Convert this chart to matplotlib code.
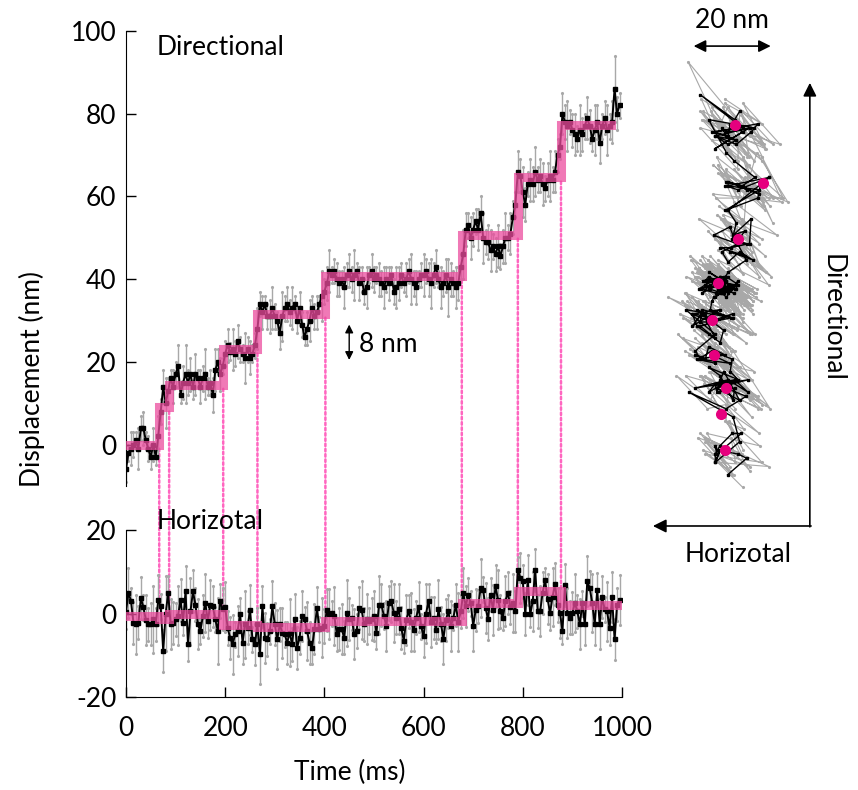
import numpy as np
import matplotlib
matplotlib.use('Agg')
import matplotlib.pyplot as plt
from matplotlib.patches import ConnectionPatch

plt.rcParams['font.family'] = ['Lato', 'DejaVu Sans']
plt.rcParams['axes.unicode_minus'] = False

# sampling times (ms), one point every 5 ms
time_ms = np.arange(0, 1000, 5)

# directional displacement (nm), black trace
dir_nm = np.array([
    -6, -2, -1, 0, 1, -1, 4, 4, 1, -1, -3, 0, -3, 2,
    8, 14, 10, 13,
    16, 14, 17, 19, 12, 15, 17, 15, 17, 14, 17, 16, 14, 16, 17, 14, 15, 12, 18, 20, 17, 19,
    22, 24, 22.5, 23, 22, 25, 23, 22, 21, 23, 21, 22, 24,
    28, 34, 32, 34, 31, 31, 33, 31, 30, 27, 31, 33, 34, 32, 33, 34, 30, 33, 29, 26, 28, 30, 33, 31, 32, 34, 36, 37,
    39, 42, 41, 42, 40, 39, 40, 38, 41, 42, 40, 41, 42, 39, 40, 37, 38, 41, 42, 40,
    41, 40, 39, 38, 40, 39, 41, 37, 38, 39, 41, 39, 40, 42, 40, 39, 38, 40, 41, 41,
    42, 40, 39, 41, 43, 40, 38, 39, 41, 38, 40, 39, 38, 39, 43,
    46, 52, 53, 50, 52, 54, 52, 56, 50, 49, 49, 47, 48, 46, 48, 45.5, 48, 50, 50, 51, 55, 58,
    66, 65, 61, 58, 63, 64, 63, 66, 64, 65, 63, 62, 64, 65, 64, 66, 70, 72,
    80, 78, 77, 78, 76, 75, 74, 76, 75, 77, 79, 77, 74, 76, 78, 73, 77, 79, 76, 77, 78, 86, 80, 82])

# horizontal displacement (nm), black trace
hor_nm = np.array([
    0.4, 5.0, 3.0, -2.2, -2.6, -2.2, 3.7, 1.5, -1.5, -2.6, -2.6, -1.4, -2.6, 3.3,
    1.7, -9.0, 0.0, 4.9,
    -2.6, -2.2, -1.4, -0.5, 3.3, -2.2, 5.3, -7.4, 0.5, 5.3, 2.1, -2.6, -4.2, -0.6, 2.5, -1.8, 2.1, 1.7, -1.4, -4.2, 3.0, 1.0,
    1.5, -3.5, -5.8, -7.4, -5.0, -4.2, -0.2, -7.0, -2.6, -3.4, 0.9, -6.2, -7.4,
    -2.6, -9.8, 1.7, -5.8, -6.2, -4.2, 1.7, -2.6, -6.2, -2.6, -4.6, -5.0, -7.0, -4.6, -7.4, -1.4, -8.2, -5.8, -0.6, -1.4,
    -4.2, -7.0, -8.2, -3.8, 1.3, -3.8, -3.4, -3.0,
    0.9, -0.2, 0.1, -0.6, -5.0, -3.8, -3.8, -5.8, 0.1, -1.4, -1.0, -5.0, -4.2, 1.3, 0.9, -2.6, -1.4, -1.8, -1.4, -0.6,
    -4.6, 2.1, 2.1, -0.6, -3.0, 2.5, 2.9, 0.1, -1.0, 1.0, -3.5, -6.5, -1.5, 0.5, -2.0, -4.0, -1.0, 1.5, -3.0, -5.5,
    0.0, 3.0, -2.0, -1.0, -4.0, 1.0, -2.5, -6.0, -1.5, 0.5, -3.0, -1.0, 2.0, -2.0, 0.5,
    4.9, 1.7, 4.5, 2.5, -3.0, 0.9, 1.7, 6.1, 5.7, 1.3, -1.4, 4.5, 0.9, 6.5, 3.3, 0.5, -1.0, 3.0, 5.0, 1.5, 2.5, 0.5,
    10.5, 8.5, 7.7, -0.2, 8.1, -0.2, 2.9, 10.5, 0.5, 0.5, 5.0, 8.0, 3.5, 0.1, 4.0, 7.0, 2.0, 0.1,
    -4.2, 6.9, 0.1, -1.0, 0.1, 2.5, 0.5, -2.6, 2.5, -2.6, 7.7, 6.1, 2.5, -2.6, 5.7, -2.6, 4.0, 1.0, 0.5, -3.5,
    4.0, -6.2, 2.1, 3.3])

# error bars (nm), grey
err_dir = np.array([
    3, 2, 4, 3, 2, 5, 3, 4, 2, 3, 3, 4, 2, 5, 3, 4, 6, 3, 2, 4,
    3, 5, 2, 4, 7, 3, 4, 3, 5, 2, 4, 3, 6, 2, 3, 4, 5, 3, 4, 2,
    3, 4, 2, 5, 3, 4, 3, 2, 6, 3, 4, 2, 3, 5, 3, 4, 2, 3, 4, 5,
    3, 2, 4, 6, 3, 4, 3, 5, 2, 3, 4, 3, 2, 4, 5, 3, 3, 4, 2, 6,
    3, 4, 5, 2, 3, 4, 3, 2, 5, 3, 4, 3, 6, 2, 4, 3, 3, 5, 2, 4,
    3, 2, 4, 3, 5, 3, 4, 2, 3, 5, 4, 3, 2, 4, 3, 6, 3, 4, 2, 3,
    5, 3, 4, 6, 3, 4, 2, 5, 3, 4, 7, 4, 3, 5, 4, 3, 6, 4, 3, 5,
    4, 3, 5, 4, 6, 3, 4, 5, 3, 4, 5, 3, 4, 6, 3, 5, 4, 3, 5, 4,
    6, 4, 3, 5, 4, 6, 3, 4, 5, 3, 4, 6, 3, 5, 4, 3, 5, 4, 6, 3,
    4, 5, 3, 6, 4, 3, 5, 4, 3, 6, 4, 5, 3, 4, 6, 3, 5, 8, 4, 3])
err_hor = np.array([
    4, 6, 3, 5, 7, 4, 5, 3, 6, 4, 5, 8, 4, 6, 3, 5, 9, 4, 6, 5,
    4, 7, 5, 3, 6, 4, 8, 5, 4, 6, 3, 5, 7, 4, 6, 5, 3, 8, 4, 5,
    6, 4, 5, 7, 3, 6, 4, 5, 8, 4, 6, 3, 5, 4, 7, 5, 6, 4, 3, 6,
    5, 7, 4, 6, 3, 5, 8, 4, 6, 5, 4, 6, 3, 7, 5, 4, 6, 5, 3, 7,
    4, 5, 6, 3, 7, 4, 5, 6, 4, 8, 5, 3, 6, 4, 5, 7, 4, 6, 3, 5,
    6, 4, 7, 5, 3, 6, 4, 5, 7, 4, 6, 5, 3, 6, 4, 7, 5, 4, 6, 3,
    5, 7, 4, 6, 5, 3, 7, 4, 6, 5, 4, 6, 3, 5, 7, 4, 6, 5, 4, 3,
    6, 5, 4, 7, 3, 6, 5, 4, 6, 5, 7, 4, 3, 6, 5, 4, 7, 5, 3, 6,
    4, 5, 6, 3, 7, 5, 4, 6, 5, 3, 6, 4, 7, 5, 4, 6, 3, 5, 6, 4,
    5, 7, 4, 6, 3, 5, 6, 4, 7, 5, 4, 6, 5, 3, 7, 4, 6, 5, 4, 6])

# step fit: edges (ms) and levels (nm)
step_edges = [0, 67, 87, 196, 265, 402, 677, 790, 877]
dir_end = 978
hor_end = 995
dir_levels = [0, 9, 14.5, 23, 31.7, 40.7, 50.8, 64.6, 77.2]
hor_levels = [-0.5, -1.2, -0.1, -2.8, -3.2, -1.8, 2.5, 5.4, 2.0]

# step centres in the 2D plot (nm)
centre_hor = [-0.25, -1.2, 0, -2.9, -3.4, -1.9, 2.9, 9.0, 2.2]
centre_dir = [0, 8.7, 15, 23, 31.5, 40.4, 51, 64.6, 78.7]

pink = '#EC4C9E'
grey = '#a8a8a8'
fs = 19

fig = plt.figure(figsize=(8.58, 7.90), dpi=100)
ax1 = fig.add_axes([126/858, 1-486/790, 496/858, 455/790])
ax2 = fig.add_axes([126/858, 1-697/790, 496/858, 167/790])
ax3 = fig.add_axes([640/858, 1-580/790, 210/858, 580/790])


def draw_trace(ax, y, e, edges, levels, end):
    ax.errorbar(time_ms, y, yerr=e, fmt='none', ecolor=grey, elinewidth=1, zorder=1)
    ax.plot(time_ms, y + e, '.', color=grey, ms=2.5, zorder=1)
    ax.plot(time_ms, y - e, '.', color=grey, ms=2.5, zorder=1)
    ax.plot(time_ms, y, '-s', color='black', lw=1.4, ms=2.3, zorder=2)
    ax.step(list(edges) + [end], list(levels) + [levels[-1]], where='post',
            color=pink, lw=6.5, alpha=0.75, zorder=3, solid_joinstyle='miter')


draw_trace(ax1, dir_nm, err_dir, step_edges, dir_levels, dir_end)
draw_trace(ax2, hor_nm, err_hor, step_edges, hor_levels, hor_end)

for ax in (ax1, ax2):
    ax.set_xlim(0, 1000)
    ax.patch.set_visible(False)
    for s in ('top', 'right'):
        ax.spines[s].set_visible(False)
    ax.tick_params(direction='in', length=7, width=1, labelsize=fs, pad=7)

ax1.set_ylim(-10, 100)
ax1.set_yticks([0, 20, 40, 60, 80, 100])
ax1.spines['bottom'].set_visible(False)
ax1.set_xticks([])

ax2.set_ylim(-20, 20)
ax2.set_yticks([-20, 0, 20])
ax2.set_xticks([0, 200, 400, 600, 800, 1000])
ax2.tick_params(axis='x', pad=14)

fig.text(350/858, 1-772/790, 'Time (ms)', fontsize=fs, ha='center', va='center')
fig.text(0.037, 0.52, 'Displacement (nm)', rotation=90, fontsize=fs, ha='center', va='center')
ax1.text(62, 96, 'Directional', fontsize=fs, va='center')
ax2.text(62, 22, 'Horizotal', fontsize=fs, va='center', clip_on=False)

# 8 nm marker
ax1.annotate('', xy=(450, 19.8), xytext=(450, 29.7),
             arrowprops=dict(arrowstyle='<|-|>', color='black', lw=1, mutation_scale=12))
ax1.text(470, 24.3, '8 nm', fontsize=fs, va='center')

# dotted lines linking the steps in both panels
for i in range(1, len(step_edges)):
    t = step_edges[i]
    con = ConnectionPatch(xyA=(t, dir_levels[i - 1] - 1), coordsA=ax1.transData,
                          xyB=(t, max(hor_levels[i - 1], hor_levels[i]) + 1), coordsB=ax2.transData,
                          color='#ff66c0', lw=1.8, linestyle=(0, (1, 1.1)), zorder=-1)
    fig.add_artist(con)

# 2D trajectory
gx = np.ravel(np.column_stack([hor_nm + err_hor * 0.9, hor_nm - err_hor * 0.6]))
gy = np.ravel(np.column_stack([dir_nm - err_dir, dir_nm + err_dir]))
ax3.plot(gx, gy, '-', color=grey, lw=0.8, marker='.', ms=2.5, zorder=1)
ax3.plot(hor_nm, dir_nm, '-s', color='black', lw=1.0, ms=2.0, zorder=2)
ax3.plot(centre_hor, centre_dir, 'o', color='#e6007e', ms=8, mec='none', zorder=3)
ax3.set_xlim((640 - 726) / 4.13, (850 - 726) / 4.13)
ax3.set_ylim((450 - 580) / 4.13, 450 / 4.13)
ax3.axis('off')

ax3.annotate('', xy=(-8.5, 97.8), xytext=(11.5, 97.8),
             arrowprops=dict(arrowstyle='<|-|>', color='black', lw=1.2, mutation_scale=18))
ax3.text(1.5, 103.9, '20 nm', fontsize=fs, ha='center', va='center')
ax3.annotate('', xy=(20.3, 88.9), xytext=(20.3, -18.6),
             arrowprops=dict(arrowstyle='-|>', color='black', lw=1.2, mutation_scale=20, shrinkA=0, shrinkB=0))
ax3.annotate('', xy=(-17.7, -18.4), xytext=(20.6, -18.4),
             arrowprops=dict(arrowstyle='-|>', color='black', lw=1.2, mutation_scale=20, shrinkA=0, shrinkB=0))
ax3.text(25.6, 32, 'Directional', fontsize=fs, rotation=270, ha='center', va='center')
ax3.text(2.9, -25.4, 'Horizotal', fontsize=fs, ha='center', va='center')

fig.savefig('out.png', dpi=100)
